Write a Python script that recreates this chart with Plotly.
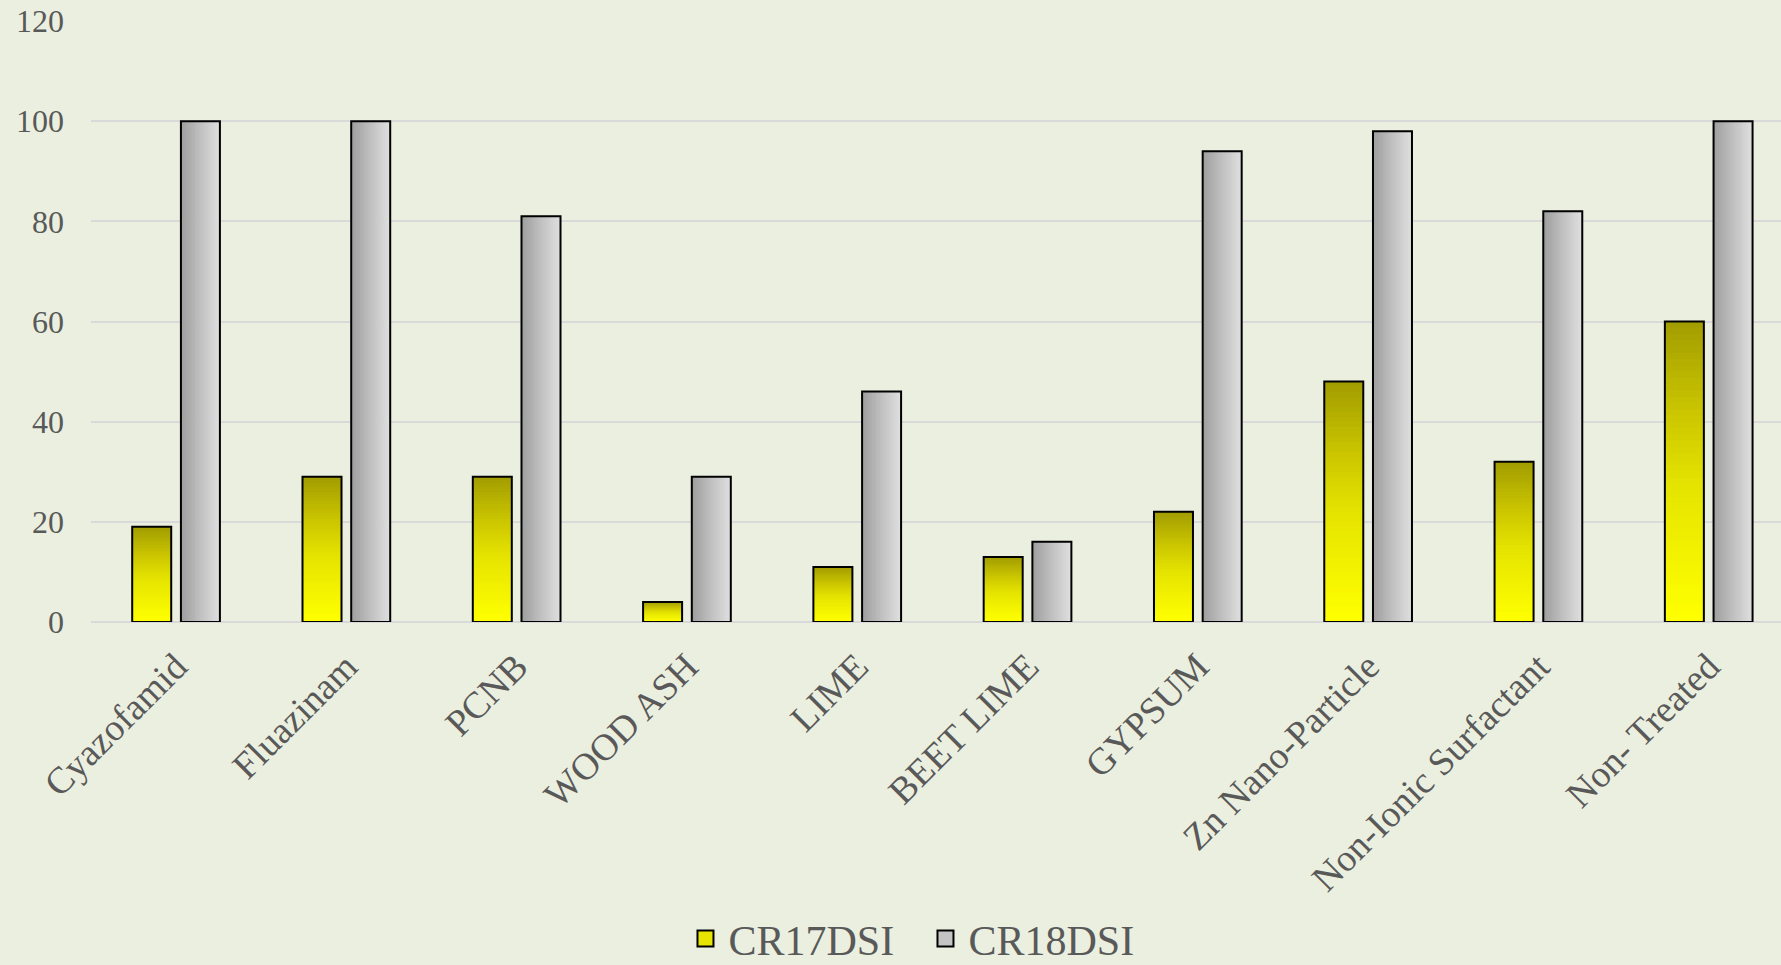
import numpy as np
import plotly.graph_objects as go

# Treatments and disease severity index per season
categories = ["Cyazofamid", "Fluazinam", "PCNB", "WOOD ASH", "LIME", "BEET LIME",
              "GYPSUM", "Zn Nano-Particle", "Non-Ionic Surfactant", "Non- Treated"]
cr17dsi = [19, 29, 29, 4, 11, 13, 22, 48, 32, 60]
cr18dsi = [100, 100, 81, 29, 46, 16, 94, 98, 82, 100]
y_ticks = [0, 20, 40, 60, 80, 100, 120]

BG = "#ebefdf"
TXT = "#595959"
FONT = "Liberation Serif, Times New Roman, serif"

idx = np.arange(len(categories))
v17 = np.array(cr17dsi, dtype=float)
v18 = np.array(cr18dsi, dtype=float)

BAR_W = 0.229
OFF17 = -0.258
OFF18 = 0.028


def lerp_stops(stops, t):
    # stops: list of (pos, (r,g,b)), t in [0,1]
    for (p0, c0), (p1, c1) in zip(stops[:-1], stops[1:]):
        if p0 <= t <= p1:
            f = (t - p0) / (p1 - p0) if p1 > p0 else 0
            return "rgb(%d,%d,%d)" % tuple(round(a + (b - a) * f) for a, b in zip(c0, c1))
    return "rgb(%d,%d,%d)" % stops[-1][1]


fig = go.Figure()

# Yellow series: vertical gradient, olive at the top fading to bright yellow at the base
yellow_stops = [(0.0, (163, 158, 0)), (0.3, (203, 198, 0)), (0.55, (229, 228, 0)), (1.0, (255, 255, 0))]
N = 48
for k in range(N):
    frac = (N - k) / N
    fig.add_trace(go.Bar(
        x=idx, y=v17 * frac, width=BAR_W, offset=OFF17,
        marker=dict(color=lerp_stops(yellow_stops, k / (N - 1)), line=dict(width=0)),
        showlegend=False, hoverinfo="skip"))

# Grey series: horizontal gradient, darker on the left edge
grey_stops = [(0.0, (158, 158, 158)), (0.5, (192, 192, 192)), (1.0, (222, 222, 222))]
M = 30
sw = BAR_W / M
for k in range(M):
    fig.add_trace(go.Bar(
        x=idx, y=v18, width=sw * 1.6, offset=OFF18 + k * sw - (0.3 * sw if k else 0),
        marker=dict(color=lerp_stops(grey_stops, k / (M - 1)), line=dict(width=0)),
        showlegend=False, hoverinfo="skip"))

# Black outlines on top of the gradient fills
for vals, off, name in [(v17, OFF17, "CR17DSI"), (v18, OFF18, "CR18DSI")]:
    fig.add_trace(go.Bar(
        x=idx, y=vals, width=BAR_W, offset=off, name=name,
        marker=dict(color="rgba(0,0,0,0)", line=dict(color="black", width=2)),
        showlegend=False))

# Legend entries (square swatches)
fig.add_trace(go.Scatter(x=[None], y=[None], name="CR17DSI", mode="markers",
                         marker=dict(symbol="square", size=18, color="#e6e400",
                                     line=dict(color="black", width=2))))
fig.add_trace(go.Scatter(x=[None], y=[None], name="CR18DSI", mode="markers",
                         marker=dict(symbol="square", size=18, color="#c4c4c4",
                                     line=dict(color="black", width=2))))

fig.update_layout(
    width=1781, height=965,
    barmode="overlay",
    paper_bgcolor=BG, plot_bgcolor=BG,
    margin=dict(l=91, r=0, t=21, b=343, autoexpand=False),
    font=dict(family=FONT, color=TXT),
    showlegend=True,
    legend=dict(orientation="h", x=0.492, xanchor="center", y=-0.527, yanchor="middle",
                font=dict(size=42, color=TXT, family=FONT), bgcolor="rgba(0,0,0,0)",
                itemsizing="trace", itemwidth=36, entrywidth=189, entrywidthmode="pixels"),
    xaxis=dict(
        tickmode="array", tickvals=idx, ticktext=categories,
        range=[-0.5, 9.424], tickangle=-45, showgrid=False, zeroline=False,
        showline=False, ticks="", tickfont=dict(size=37.5, color=TXT, family=FONT),
        ticklabelstandoff=14, automargin=False, fixedrange=True),
    yaxis=dict(
        range=[0, 120], tickmode="array", tickvals=y_ticks,
        showgrid=True, gridcolor="#d9d9d9", gridwidth=2,
        zeroline=True, zerolinecolor="#d9d9d9", zerolinewidth=2,
        showline=False, ticks="", tickfont=dict(size=32, color=TXT, family=FONT),
        ticklabelstandoff=26, automargin=False, fixedrange=True),
)

fig.write_html("out.html")
